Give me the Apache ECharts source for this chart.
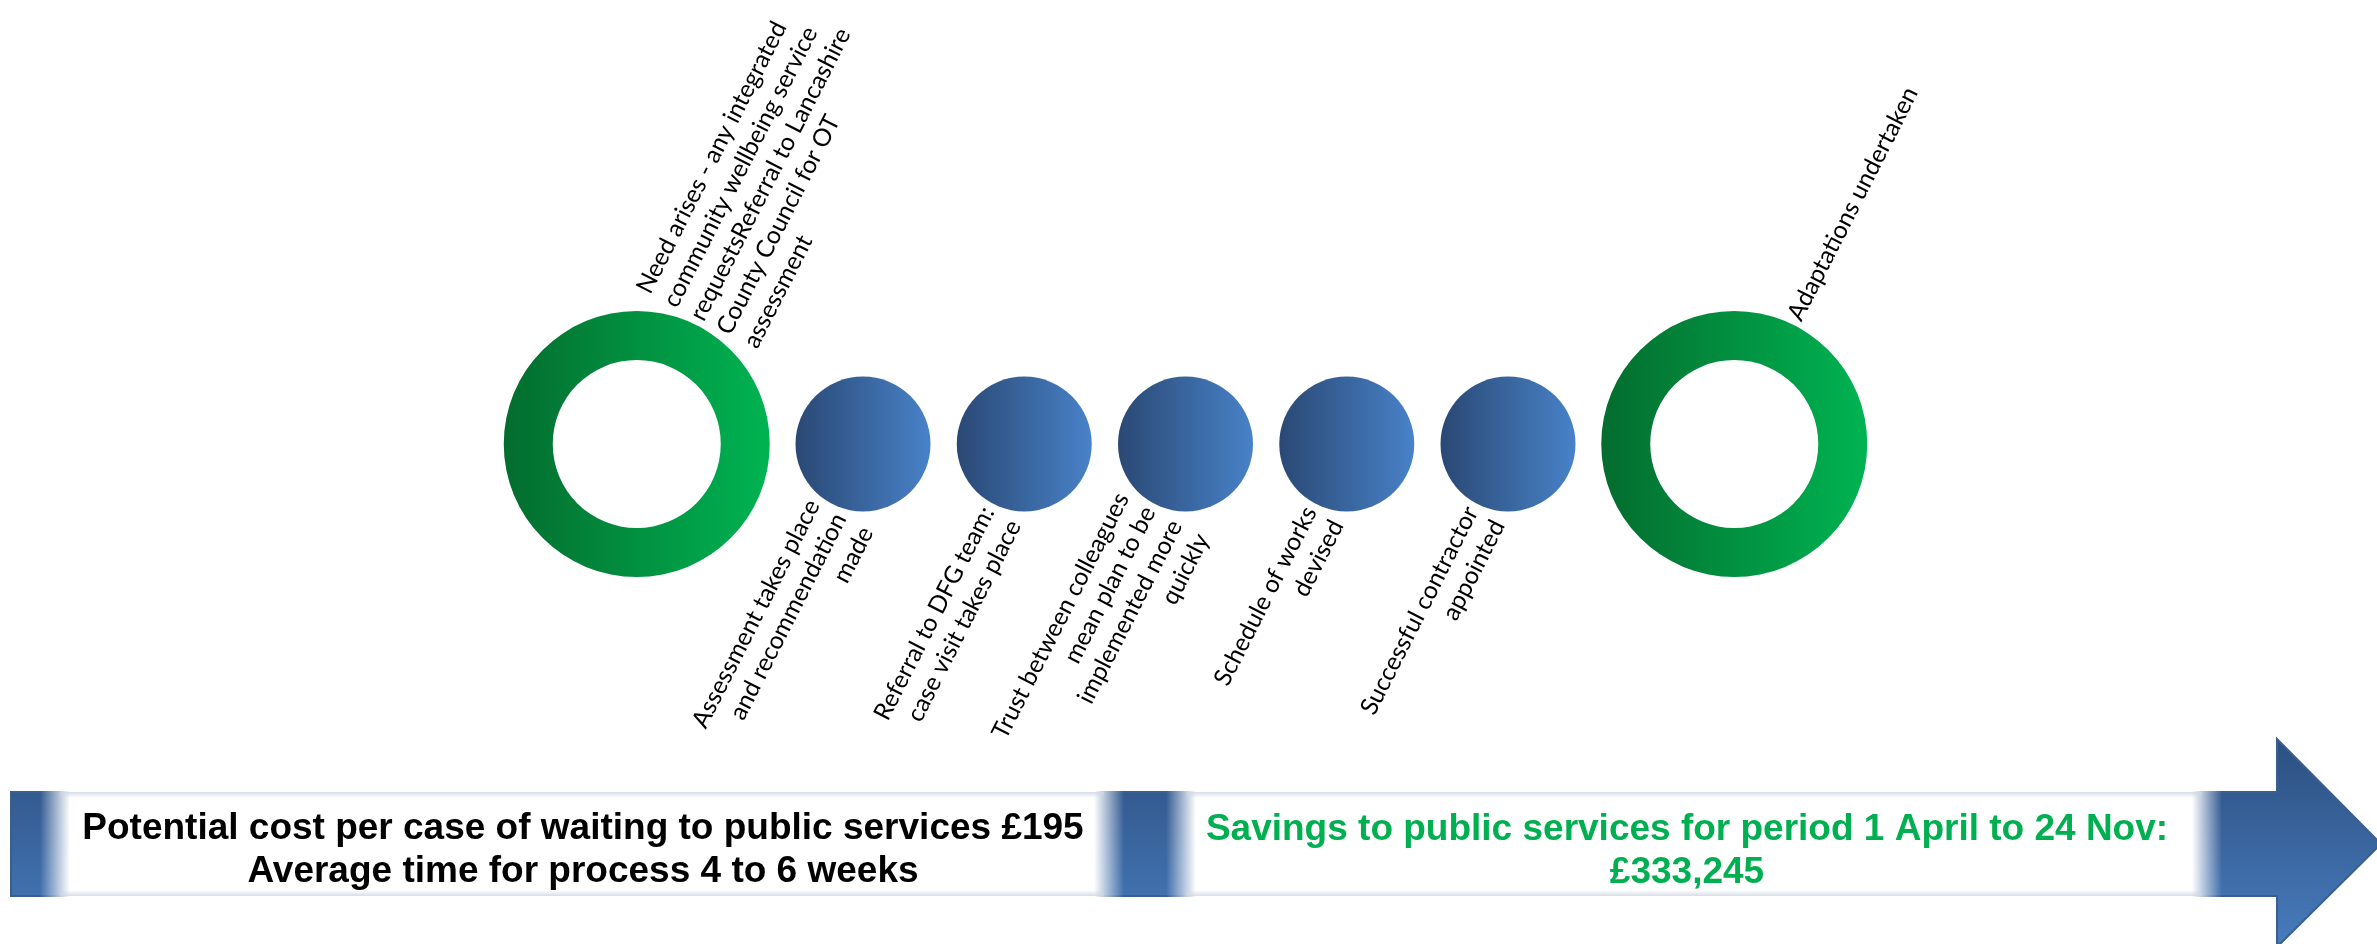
<!DOCTYPE html>
<html>
<head>
<meta charset="utf-8">
<script src="https://cdn.jsdelivr.net/npm/echarts@6/dist/echarts.min.js"></script>
<style>
  html, body { margin: 0; padding: 0; background: #ffffff; }
  #chart { width: 2377px; height: 944px; }
</style>
</head>
<body>
<div id="chart"></div>
<script>
// Process steps, in order, along the timeline
const steps = [
  'Need arises',
  'Assessment',
  'Referral to DFG team',
  'Trust between colleagues',
  'Schedule of works',
  'Contractor appointed',
  'Adaptations undertaken'
];
// Milestones (start / finish) are drawn as rings, intermediate tasks as dots
const stepKinds = ['milestone', 'task', 'task', 'task', 'task', 'task', 'milestone'];
const stepLabels = [
  'Need arises - any integrated\ncommunity wellbeing service\nrequestsReferral to Lancashire\nCounty Council for OT\nassessment',
  'Assessment takes place\nand recommendation\nmade',
  'Referral to DFG team:\ncase visit takes place',
  'Trust between colleagues\nmean plan to be\nimplemented more\nquickly',
  'Schedule of works\ndevised',
  'Successful contractor\nappointed',
  'Adaptations undertaken'
];
const costLines = [
  'Potential cost per case of waiting to public services \u00a3195',
  'Average time for process 4 to 6 weeks'
];
const savingsLines = [
  'Savings to public services for period 1 April to 24 Nov:',
  '\u00a3333,245'
];

// ---- styling / layout constants ----
const RING_OUTER = 133, RING_INNER = 84, DOT_R = 67.5;
const RING_GAP = 65;           // extra spacing that sets the end rings apart from the dots
const LABEL_ROT = 63 * Math.PI / 180;
const LABEL_FONT = '24.5px Lato, "Open Sans", sans-serif';
const LABEL_LH = 30;
const BAND_FONT = 'bold 37px "Liberation Sans", Arial, sans-serif';

const greenGrad = () => new echarts.graphic.LinearGradient(0, 0, 1, 0, [
  { offset: 0, color: '#036c2e' }, { offset: 1, color: '#00b452' }
]);
const blueGrad = () => new echarts.graphic.LinearGradient(0, 0, 1, 0, [
  { offset: 0, color: '#2a4874' }, { offset: 1, color: '#4882c8' }
]);

function renderStep(params, api) {
  const i = api.value(0);
  const p = api.coord([i, api.value(1)]);
  const kind = stepKinds[i];
  const children = [];
  if (kind === 'milestone') {
    const cx = p[0] + (i < steps.length / 2 ? -RING_GAP : RING_GAP);
    const cy = p[1];
    children.push({
      type: 'ring',
      shape: { cx: cx, cy: cy, r: RING_OUTER, r0: RING_INNER },
      style: { fill: greenGrad() }
    });
    children.push({
      type: 'text',
      x: cx + 60, y: cy - 125,
      rotation: LABEL_ROT,
      style: {
        text: stepLabels[i], font: LABEL_FONT, lineHeight: LABEL_LH,
        fill: '#000000', align: 'left', verticalAlign: 'middle'
      }
    });
  } else {
    const cx = p[0], cy = p[1];
    children.push({
      type: 'circle',
      shape: { cx: cx, cy: cy, r: DOT_R },
      style: { fill: blueGrad() }
    });
    children.push({
      type: 'text',
      x: cx - 23, y: cy + 71,
      rotation: LABEL_ROT,
      style: {
        text: stepLabels[i], font: LABEL_FONT, lineHeight: LABEL_LH,
        fill: '#000000', align: 'right', verticalAlign: 'middle'
      }
    });
  }
  return { type: 'group', children: children };
}

// ---- timeline arrow along the bottom ----
const bandTop = 792, bandBottom = 896, bandLeft = 11;
const headBase = 2277, headTop = 739, headBottom = 947, headTip = 2381;
const bandMid = (bandTop + bandBottom) / 2;

function glowBox(x0, x1) {
  const w = x1 - x0, fade = 30 / w;
  return [
    {
      type: 'rect', z: 1,
      shape: { x: x0, y: bandTop - 1, width: w, height: bandBottom - bandTop + 2 },
      style: {
        fill: new echarts.graphic.LinearGradient(0, 0, 1, 0, [
          { offset: 0, color: 'rgba(255,255,255,0)' },
          { offset: fade, color: 'rgba(255,255,255,1)' },
          { offset: 1 - fade, color: 'rgba(255,255,255,1)' },
          { offset: 1, color: 'rgba(255,255,255,0)' }
        ])
      }
    },
    {
      type: 'rect', z: 2,
      shape: { x: x0 + 20, y: bandTop, width: w - 40, height: 6 },
      style: {
        fill: new echarts.graphic.LinearGradient(0, 0, 0, 1, [
          { offset: 0, color: 'rgba(205,214,226,0.8)' },
          { offset: 1, color: 'rgba(205,214,226,0)' }
        ])
      }
    },
    {
      type: 'rect', z: 2,
      shape: { x: x0 + 20, y: bandBottom - 6, width: w - 40, height: 6 },
      style: {
        fill: new echarts.graphic.LinearGradient(0, 0, 0, 1, [
          { offset: 0, color: 'rgba(205,214,226,0)' },
          { offset: 1, color: 'rgba(205,214,226,0.8)' }
        ])
      }
    }
  ];
}

const arrowGraphics = [
  {
    type: 'polygon', z: 0,
    shape: {
      points: [
        [bandLeft, bandTop], [headBase, bandTop], [headBase, headTop], [headTip, bandMid],
        [headBase, headBottom], [headBase, bandBottom], [bandLeft, bandBottom]
      ]
    },
    style: {
      fill: new echarts.graphic.LinearGradient(0, 0, 0, 1, [
        { offset: 0, color: '#2c4f80' }, { offset: 1, color: '#477cbd' }
      ]),
      stroke: '#3a5e8e', lineWidth: 2
    }
  },
  ...glowBox(40, 1124),
  ...glowBox(1166, 2222),
  {
    type: 'text', z: 3,
    style: {
      x: 583, y: 850, text: costLines.join('\n'), font: BAND_FONT, lineHeight: 43,
      fill: '#000000', align: 'center', verticalAlign: 'middle'
    }
  },
  {
    type: 'text', z: 3,
    style: {
      x: 1687, y: 851, text: savingsLines.join('\n'), font: BAND_FONT, lineHeight: 43,
      fill: '#00b050', align: 'center', verticalAlign: 'middle'
    }
  }
];

const chart = echarts.init(document.getElementById('chart'), null, { renderer: 'canvas' });
chart.setOption({
  backgroundColor: '#ffffff',
  animation: false,
  grid: { left: 701.75, right: 707.75, top: 344, height: 200 },
  xAxis: { type: 'category', data: steps, boundaryGap: false, show: false },
  yAxis: { type: 'value', min: 0, max: 1, show: false },
  graphic: arrowGraphics,
  series: [{
    type: 'custom',
    renderItem: renderStep,
    data: steps.map((s, i) => [i, 0.5]),
    silent: true
  }]
});
</script>
</body>
</html>
